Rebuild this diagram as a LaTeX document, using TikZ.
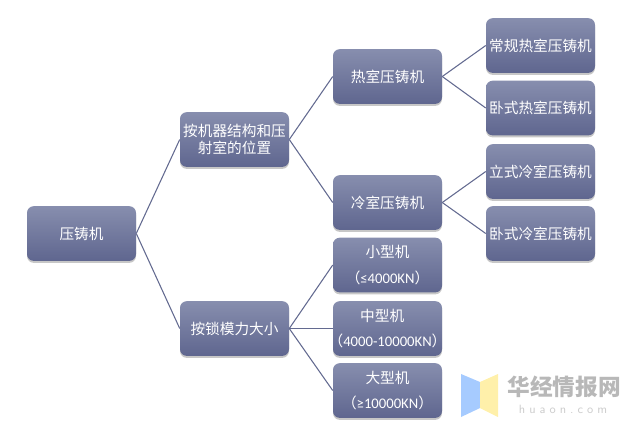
\documentclass[tikz,border=0pt]{standalone}
\usepackage{fontspec}
\setmainfont{Carlito}
\newfontfamily\cjk{Noto Sans CJK SC}
\usepackage{xcolor}
\usepackage{tikz}
\usetikzlibrary{shadows}
\definecolor{boxtop}{HTML}{878EAE}
\definecolor{boxbot}{HTML}{5F668F}
\definecolor{linkline}{HTML}{636A90}
\definecolor{markblue}{HTML}{A6CBFF}
\definecolor{markyellow}{HTML}{FFF0AA}
\definecolor{markgrey}{HTML}{B8B8B8}

\begin{document}
\begin{tikzpicture}[
  x=0.75pt,
  y=-0.75pt,
  font=\fontsize{11pt}{13pt}\selectfont\cjk,
  machine/.style={
    rounded corners=5pt,
    top color=boxtop,
    bottom color=boxbot,
    draw=none,
    text=white,
    text width=81.75pt,
    minimum height=41pt,
    inner sep=0pt,
    align=center,
    drop shadow={shadow xshift=0pt,shadow yshift=-1.5pt,opacity=0.22,fill=black}
  },
  edge/.style={draw=linkline,line width=0.8pt},
  tworow/.style={font=\fontsize{11pt}{19pt}\selectfont\cjk},
  marktext/.style={text=markgrey,inner sep=0pt}
]
\useasboundingbox (0,0) rectangle (642,437);

\node[machine] (root) at (81.5,233.5) {压铸机};

\node[machine] (layout) at (234.5,139.5) {按机器结构和压\\射室的位置};
\node[machine] (force) at (234.5,328.5) {按锁模力大小};

\node[machine] (hot) at (387.5,76.5) {热室压铸机};
\node[machine] (cold) at (387.5,202.5) {冷室压铸机};
\node[machine,tworow] (small) at (387.5,265) {小型机\\（{\rmfamily ≤4000KN}）};
\node[machine,tworow] (medium) at (387.5,328.5) {\makebox[81.75pt][c]{中型机\rule{8pt}{0pt}}\\\makebox[81.75pt][c]{（{\rmfamily 4000-10000KN}）}};
\node[machine,tworow] (large) at (387.5,390.5) {大型机\\（{\rmfamily ≥10000KN}）};

\node[machine] (hotstd) at (540.5,45.5) {常规热室压铸机};
\node[machine] (hotlie) at (540.5,108) {卧式热室压铸机};
\node[machine] (coldup) at (540.5,171.5) {立式冷室压铸机};
\node[machine] (coldlie) at (540.5,233.5) {卧式冷室压铸机};

\draw[edge] (root.east) -- (layout.west);
\draw[edge] (root.east) -- (force.west);
\draw[edge] (layout.east) -- (hot.west);
\draw[edge] (layout.east) -- (cold.west);
\draw[edge] (force.east) -- (small.west);
\draw[edge] (force.east) -- (medium.west);
\draw[edge] (force.east) -- (large.west);
\draw[edge] (hot.east) -- (hotstd.west);
\draw[edge] (hot.east) -- (hotlie.west);
\draw[edge] (cold.east) -- (coldup.west);
\draw[edge] (cold.east) -- (coldlie.west);

% watermark
\fill[markblue] (461,374) -- (480,382) -- (480,408) -- (461,417) -- cycle;
\fill[markyellow] (480,382) -- (498,374) -- (498,417) -- (480,408) -- cycle;
\node[marktext,font=\fontsize{17pt}{18pt}\selectfont\cjk\bfseries] (markname) at (564,387) {华经情报网};
\node[marktext,text=markgrey!70,font=\fontsize{9pt}{10pt}\selectfont\sffamily] (markurl) at (564,409) {h\,\,u\,\,a\,\,o\,\,n\,\,.\,\,c\,\,o\,\,m\,};
\end{tikzpicture}
\end{document}
